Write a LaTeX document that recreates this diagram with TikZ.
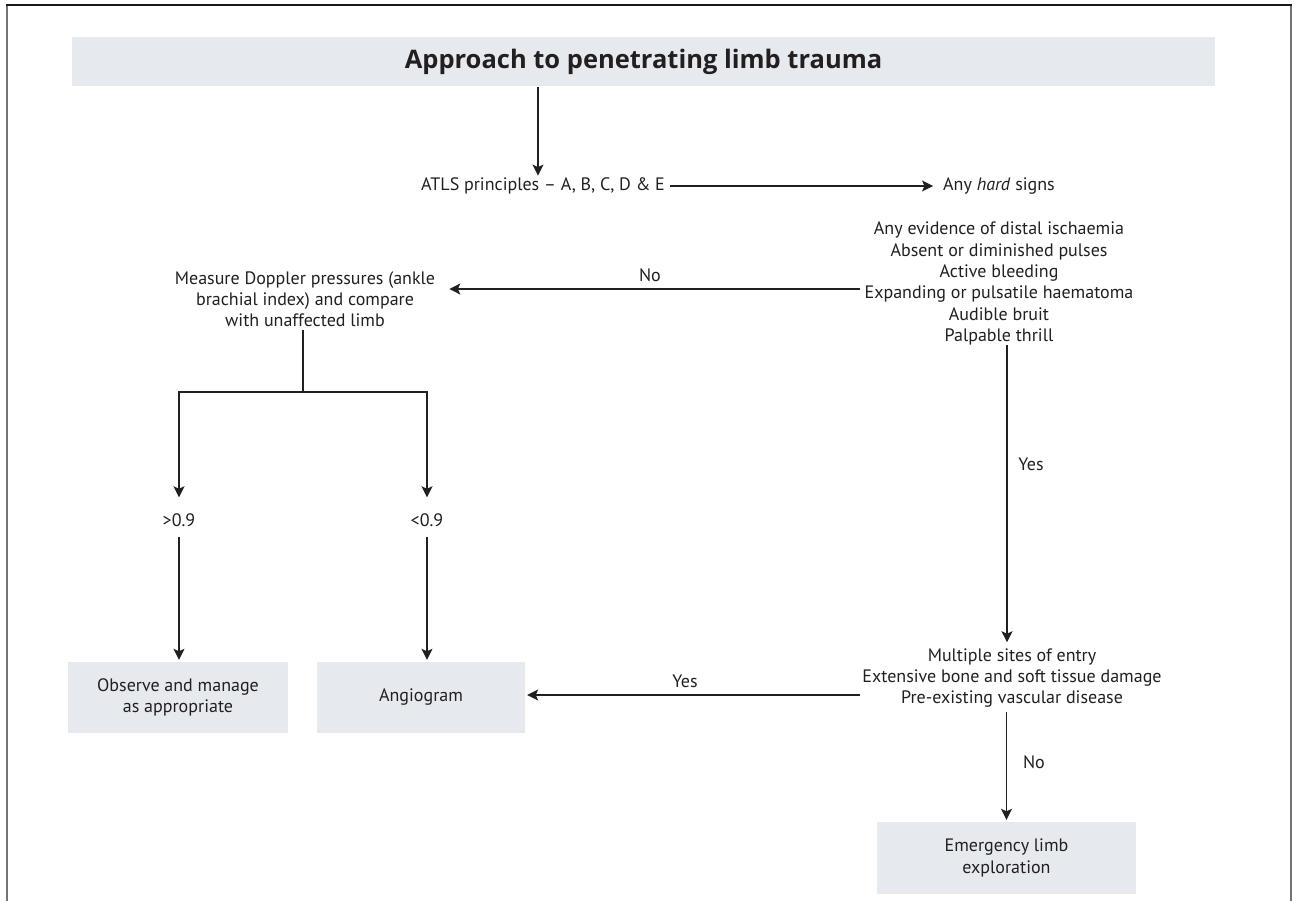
\documentclass[tikz,border=0pt]{standalone}
\usepackage{fontspec}
\setmainfont{PT Sans}
\newfontfamily\titlefont{Open Sans}
\usetikzlibrary{arrows.meta}
\definecolor{ink}{HTML}{231F20}
\definecolor{boxfill}{HTML}{E6EAEE}
\definecolor{framegray}{HTML}{747474}
\begin{document}
\begin{tikzpicture}[x=1pt,y=-1pt,
  every node/.style={text=ink, font=\fontsize{18}{21.3}\selectfont},
  txt/.style={inner sep=0pt, align=center},
  box/.style={fill=boxfill, inner sep=0pt, align=center},
  link/.style={draw=ink, line width=1.3pt},
  arr/.style={link, -{Stealth[length=11pt,width=11pt,inset=2.5pt]}},
  lbl/.style={inner sep=0pt},
]
\useasboundingbox (0,0) rectangle (1295,901);

% outer frame (open at the bottom)
\draw[framegray, line width=2pt] (7,901) -- (7,5);
\draw[framegray, line width=2pt] (1291,5) -- (1291,901);
\draw[black!90, line width=1.5pt] (6,5) -- (1292,5);

% title banner
\node[box, minimum width=1143pt, minimum height=49pt,
      font=\titlefont\bfseries\fontsize{25.5}{30}\selectfont] (title) at (643.5,62)
      {Approach to penetrating limb trauma};

% flow steps
\node[txt] (atls) at (543,186) {ATLS principles – A, B, C, D \& E};
\node[txt] (hard) at (999,186) {Any \textit{hard} signs};
\node[txt] (signs) at (999,283.5) {Any evidence of distal ischaemia\\Absent or diminished pulses\\Active bleeding\\Expanding or pulsatile haematoma\\Audible bruit\\Palpable thrill};
\node[txt] (dop) at (305,299) {Measure Doppler pressures (ankle\\brachial index) and compare\\with unaffected limb};
\node[txt] (gt) at (179,520) {>0.9};
\node[txt] (lt) at (427,520) {<0.9};
\node[box, minimum width=220pt, minimum height=71pt] (obs) at (178,697.5) {Observe and manage\\as appropriate};
\node[box, minimum width=208pt, minimum height=71pt] (angio) at (421,697.5) {Angiogram};
\node[txt] (multi) at (1012,678) {Multiple sites of entry\\Extensive bone and soft tissue damage\\Pre-existing vascular disease};
\node[box, minimum width=259pt, minimum height=72pt] (emerg) at (1006.5,858) {Emergency limb\\exploration};

% branch labels
\node[lbl] (yes1) at (1031,464) {Yes};
\node[lbl] (yes2) at (685,681) {Yes};
\node[lbl] (no2) at (1034,762) {No};

% connectors
\draw[arr, shorten >=2pt] ([xshift=-105.5pt]title.south) -- ([xshift=-5pt]atls.north);
\draw[arr, shorten <=5pt, shorten >=10pt] (atls.east) -- (hard.west);

\coordinate (s4) at ([yshift=-5.5pt]signs.west);
\draw[arr, shorten <=4pt, shorten >=14pt] (s4) -- (dop.east |- s4)
  node[lbl, midway, above=7pt] (no1) {No};

\coordinate (br) at (dop.south |- 0,392);
\draw[link, shorten <=3pt] ([xshift=-2pt]dop.south) -- ([xshift=-2pt]br);
\draw[arr, shorten >=16pt] ([xshift=-2pt]br) -| (gt.north);
\draw[arr, shorten >=16pt] ([xshift=-2pt]br) -| (lt.north);
\draw[arr, shorten <=10pt, shorten >=2pt] (gt.south) -- (gt.south |- obs.north);
\draw[arr, shorten <=10pt, shorten >=2pt] (lt.south) -- (lt.south |- angio.north);

\draw[arr, shorten >=6pt] ([xshift=8pt]signs.south) -- ([xshift=-5pt]multi.north);
\coordinate (m3) at ([yshift=-17pt]multi.west);
\draw[arr, shorten <=2pt, shorten >=2pt] (m3) -- (angio.east |- m3);
\draw[arr, shorten <=4pt, shorten >=2pt] ([xshift=-5.5pt]multi.south) -- (emerg.north);
\end{tikzpicture}
\end{document}
